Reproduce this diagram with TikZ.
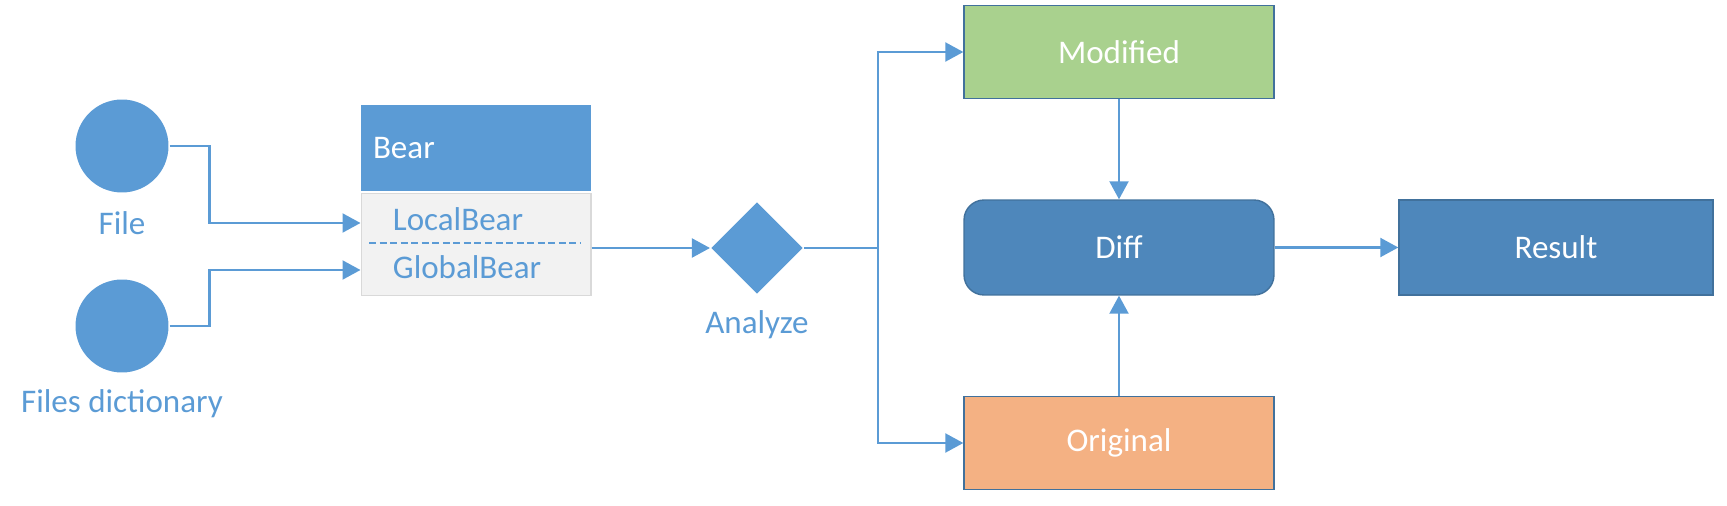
\documentclass[tikz,border=0pt]{standalone}
\usepackage{fontspec}
\setmainfont{Carlito}
\usepackage{tikz}
\usetikzlibrary{arrows.meta,positioning,shapes.geometric}
\definecolor{officeblue}{HTML}{5B9BD5}
\definecolor{darkblue}{HTML}{4E87BB}
\definecolor{edgeblue}{HTML}{41719C}
\definecolor{modgreen}{HTML}{A9D18E}
\definecolor{origorange}{HTML}{F4B183}
\definecolor{bodygray}{HTML}{F2F2F2}

\begin{document}
\begin{tikzpicture}[x=0.02cm,y=-0.02cm,>={Triangle[length=0.36cm,width=0.38cm]},line width=1.2pt,font=\fontsize{18.8}{22}\selectfont]
	\useasboundingbox (0,0) rectangle (1727,506);
	\tikzset{source/.style={circle,fill=officeblue,minimum size=1.86cm,inner sep=0pt}}
	\tikzset{caption/.style={text=officeblue}}
	\tikzset{block/.style={rectangle,draw=edgeblue,line width=0.8pt,text=white,minimum width=6.2cm,minimum height=1.86cm}}
	\tikzset{link/.style={->,draw=officeblue}}
	\node[source] (file) at (122,146) {};
	\node[caption] (filetxt) at (122,223) {File};
	\node[source] (dict) at (122,326) {};
	\node[caption] (dicttxt) at (122,404) {Files dictionary};
	
	\node[rectangle,fill=officeblue,minimum width=4.6cm,minimum height=1.74cm,text width=4.12cm,inner xsep=0.24cm,align=left,text=white] (bear) at (476,148) {Bear};
	\node[rectangle,fill=bodygray,draw=black!15,line width=0.6pt,minimum width=4.6cm,minimum height=2.04cm,below=0pt of bear] (body) {};
	\node[caption,anchor=west] (local) at (386,219) {LocalBear};
	\node[caption,anchor=west] (global) at (386,267) {GlobalBear};
	\draw[officeblue,line width=1pt,dash pattern=on 4pt off 2pt] (369,243) -- (580,243);
	
	\node[diamond,fill=officeblue,minimum width=1.84cm,minimum height=1.84cm,inner sep=0pt] (ana) at (757,248) {};
	\node[caption] (anatxt) at (757,325) {Analyze};
	\coordinate (split) at (878,248);
	
	\node[block,fill=modgreen] (mod) at (1119,52) {Modified};
	\node[block,fill=darkblue,rounded corners=0.4cm,minimum height=1.9cm] (diff) at (1119,247.5) {Diff};
	\node[block,fill=origorange] (orig) at (1119,443) {Original};
	\node[block,fill=darkblue,minimum width=6.28cm,minimum height=1.9cm] (res) at (1556,247.5) {Result};
	
	\draw[link] (file.east) -- ++(0.8cm,0) |- ([yshift=-0.08cm]local.west -| body.west);
	\draw[link] (dict.east) -- ++(0.8cm,0) |- ([yshift=-0.06cm]global.west -| body.west);
	\draw[link] (body.east |- ana) -- (ana.west);
	\draw[link] (ana.east) -- (split) |- (mod.west);
	\draw[link] (split) |- (orig.west);
	\draw[link] (mod) -- (diff);
	\draw[link] (orig) -- (diff);
	\draw[link] (diff) -- (res);
\end{tikzpicture}
\end{document}
